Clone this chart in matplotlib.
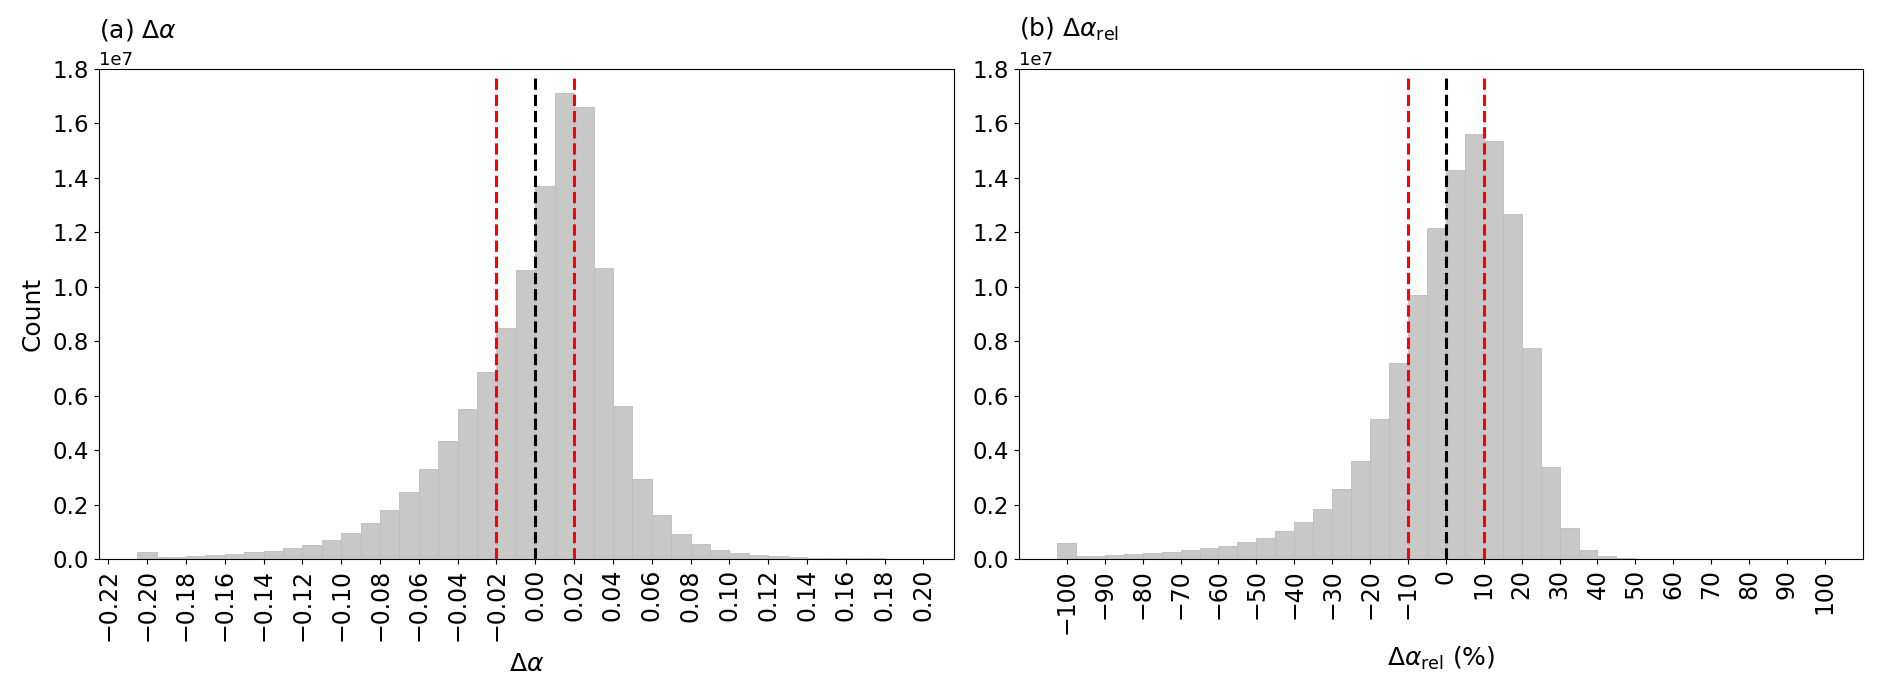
import numpy as np
import matplotlib
matplotlib.use("Agg")
import matplotlib.pyplot as plt

# (a) delta alpha: bins of 0.01 from -0.20 to 0.20, counts in units of 1e6
EDGES_A = np.linspace(-0.20, 0.20, 41)
COUNTS_A = [0.07, 0.10, 0.13, 0.16, 0.21, 0.26, 0.32, 0.42, 0.54, 0.72,
            0.97, 1.32, 1.81, 2.47, 3.33, 4.35, 5.52, 6.87, 8.48, 10.62,
            13.70, 17.11, 16.60, 10.69, 5.63, 2.95, 1.62, 0.93, 0.56, 0.35,
            0.23, 0.16, 0.11, 0.07, 0.05, 0.04, 0.03, 0.03, 0.02, 0.02]
OUTLIER_A = (-0.20, 0.28)          # clipped tail bar (centre, count 1e6)
LINES_A = [-0.02, 0.0, 0.02]
XTICKS_A = np.round(np.arange(-0.22, 0.201, 0.02), 2)

# (b) relative delta alpha (%): bins of 5 from -100 to 100
EDGES_B = np.linspace(-100, 100, 41)
COUNTS_B = [0.11, 0.13, 0.16, 0.18, 0.22, 0.27, 0.34, 0.40, 0.49, 0.62,
            0.80, 1.04, 1.38, 1.86, 2.57, 3.61, 5.14, 7.22, 9.71, 12.18,
            14.28, 15.61, 15.36, 12.67, 7.76, 3.38, 1.15, 0.35, 0.11, 0.03,
            0.015, 0.01, 0.01, 0.01, 0.01, 0.008, 0.008, 0.006, 0.006, 0.005]
OUTLIER_B = (-100, 0.61)
LINES_B = [-10, 0, 10]
XTICKS_B = np.arange(-100, 101, 10)

LINE_COLORS = ['red', 'black', 'red']
BAR_FC = '#c8c8c8'
BAR_EC = '#bdbdbd'
YTICKS = np.arange(0, 1.81e7, 0.2e7)

fig = plt.figure(figsize=(18.92, 6.86), dpi=100)
ax_a = fig.add_axes([0.0523, 0.1847, 0.4517, 0.7147])
ax_b = fig.add_axes([0.5386, 0.1847, 0.4462, 0.7147])


def draw(ax, edges, counts, outlier, lines, xticks, xlim):
    counts = np.array(counts) * 1e6
    ax.bar(edges[:-1], counts, width=np.diff(edges), align='edge',
           color=BAR_FC, edgecolor=BAR_EC, linewidth=0.6)
    w = edges[1] - edges[0]
    ax.bar(outlier[0], outlier[1] * 1e6, width=w, align='center',
           color=BAR_FC, edgecolor=BAR_EC, linewidth=0.6)
    for x, c in zip(lines, LINE_COLORS):
        ax.vlines(x, 0, 1.775e7, colors=c, linestyles='--', linewidth=2.2, zorder=3)
    ax.set_xticks(xticks)
    ax.tick_params(axis='x', labelrotation=90, labelsize=17)
    ax.tick_params(axis='y', labelsize=16.5)
    ax.set_yticks(YTICKS)
    ax.set_ylim(0, 1.8e7)
    if xlim is not None:
        ax.set_xlim(*xlim)
    ax.yaxis.get_offset_text().set_fontsize(13)


draw(ax_a, EDGES_A, COUNTS_A, OUTLIER_A, LINES_A, XTICKS_A, (-0.2248, 0.2155))
draw(ax_b, EDGES_B, COUNTS_B, OUTLIER_B, LINES_B, XTICKS_B, None)

ax_a.set_xticklabels([f'{v + 0.0:.2f}'.replace('-', '\u2212') for v in XTICKS_A])
ax_a.set_title(r'(a) $\Delta\alpha$', loc='left', fontsize=18, pad=23)
ax_b.set_title(r'(b) $\Delta\alpha_{\rm rel}$', loc='left', fontsize=18, pad=23)
ax_a.set_ylabel('Count', fontsize=18, labelpad=6)
ax_a.set_xlabel(r'$\Delta\alpha$', fontsize=18, labelpad=8)
ax_b.set_xlabel(r'$\Delta\alpha_{\rm rel}$ (%)', fontsize=18, labelpad=8)

fig.savefig('out.png', dpi=100)
